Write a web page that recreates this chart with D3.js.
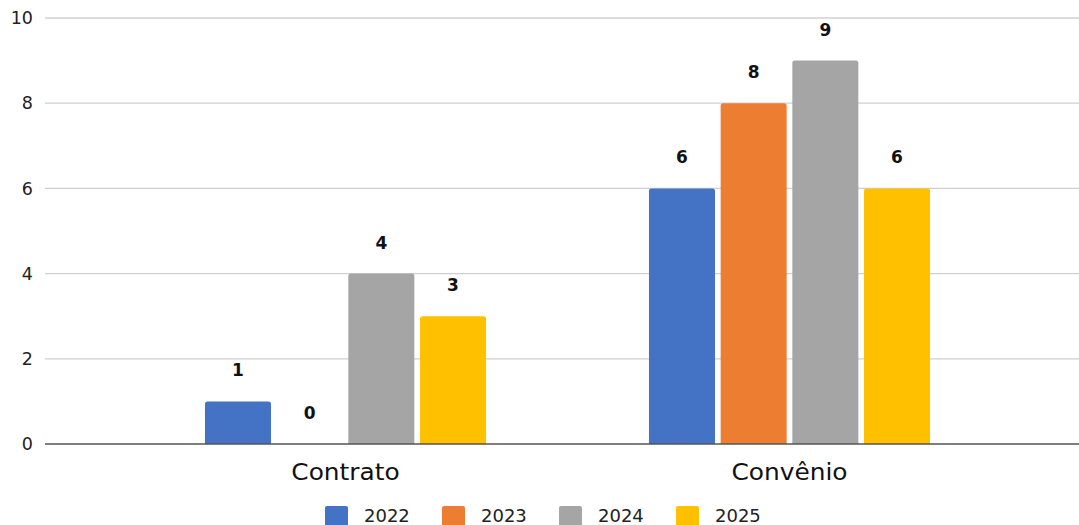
<!DOCTYPE html>
<html><head><meta charset="utf-8">
<script src="https://cdn.jsdelivr.net/npm/d3@7"></script>
<style>body{margin:0;background:#fff}svg{display:block;font-family:"DejaVu Sans","Noto Sans",sans-serif}</style>
</head><body><svg id="c" width="1079" height="525"></svg>
<script>
const categories = ["Contrato", "Convênio"];
const years = ["2022", "2023", "2024", "2025"];
const colors = ["#4472C4", "#ED7D31", "#A5A5A5", "#FFC000"];
const values2022 = [1, 6];
const values2023 = [0, 8];
const values2024 = [4, 9];
const values2025 = [3, 6];
const yTicks = [0, 2, 4, 6, 8, 10];
const series = [values2022, values2023, values2024, values2025];

const svg = d3.select("#c");
const x0 = d3.scaleBand().domain(categories).range([123.5, 1011.5]).paddingInner(0.367).paddingOuter(0.1835);
const y = d3.scaleLinear().domain([0, 10]).range([444, 18]);
const gridX1 = 45, gridX2 = 1079;
const x1 = d3.scaleBand().domain(years).range([0, x0.bandwidth()]).paddingInner(0.079);

// gridlines
svg.append("g").selectAll("line").data(yTicks.filter(d => d !== 0)).join("line")
  .attr("x1", gridX1).attr("x2", gridX2)
  .attr("y1", d => y(d)).attr("y2", d => y(d))
  .attr("stroke", "#d0d0d0").attr("stroke-width", 1.3);

// y labels
svg.append("g").selectAll("text").data(yTicks).join("text")
  .attr("x", 33).attr("y", d => y(d)).attr("dy", "0.35em")
  .attr("text-anchor", "end").attr("font-size", 17.5).attr("fill", "#222")
  .text(d => d);

// bars
const rows = [];
categories.forEach((c, i) => years.forEach((yr, j) => rows.push({c, yr, j, v: series[j][i]})));
const r = 2.5;
svg.append("g").selectAll("path").data(rows.filter(d => d.v > 0)).join("path")
  .attr("fill", d => colors[d.j])
  .attr("d", d => {
    const xL = x0(d.c) + x1(d.yr), w = x1.bandwidth(), yT = y(d.v), yB = y(0);
    return `M${xL},${yB}V${yT + r}Q${xL},${yT} ${xL + r},${yT}H${xL + w - r}Q${xL + w},${yT} ${xL + w},${yT + r}V${yB}Z`;
  });

// value labels
svg.append("g").selectAll("text").data(rows).join("text")
  .attr("x", d => x0(d.c) + x1(d.yr) + x1.bandwidth() / 2)
  .attr("y", d => y(d.v) - 25)
  .attr("text-anchor", "middle").attr("font-size", 17).attr("font-weight", "bold").attr("fill", "#111")
  .text(d => d.v);

// baseline
svg.append("line").attr("x1", gridX1).attr("x2", gridX2).attr("y1", y(0)).attr("y2", y(0))
  .attr("stroke", "#555").attr("stroke-width", 1.5);

// category labels
svg.append("g").selectAll("text").data(categories).join("text")
  .attr("transform", d => `translate(${x0(d) + x0.bandwidth() / 2},480) scale(1.08,1)`)
  .attr("text-anchor", "middle").attr("font-size", 23).attr("fill", "#111")
  .text(d => d);

// legend
const lg = svg.append("g").selectAll("g").data(years).join("g")
  .attr("transform", (d, i) => `translate(${325 + i * 117},506)`);
lg.append("rect").attr("width", 23).attr("height", 21).attr("rx", 2).attr("fill", (d, i) => colors[i]);
lg.append("text").attr("x", 39).attr("y", 16).attr("font-size", 18).attr("fill", "#222").text(d => d);
</script></body></html>
